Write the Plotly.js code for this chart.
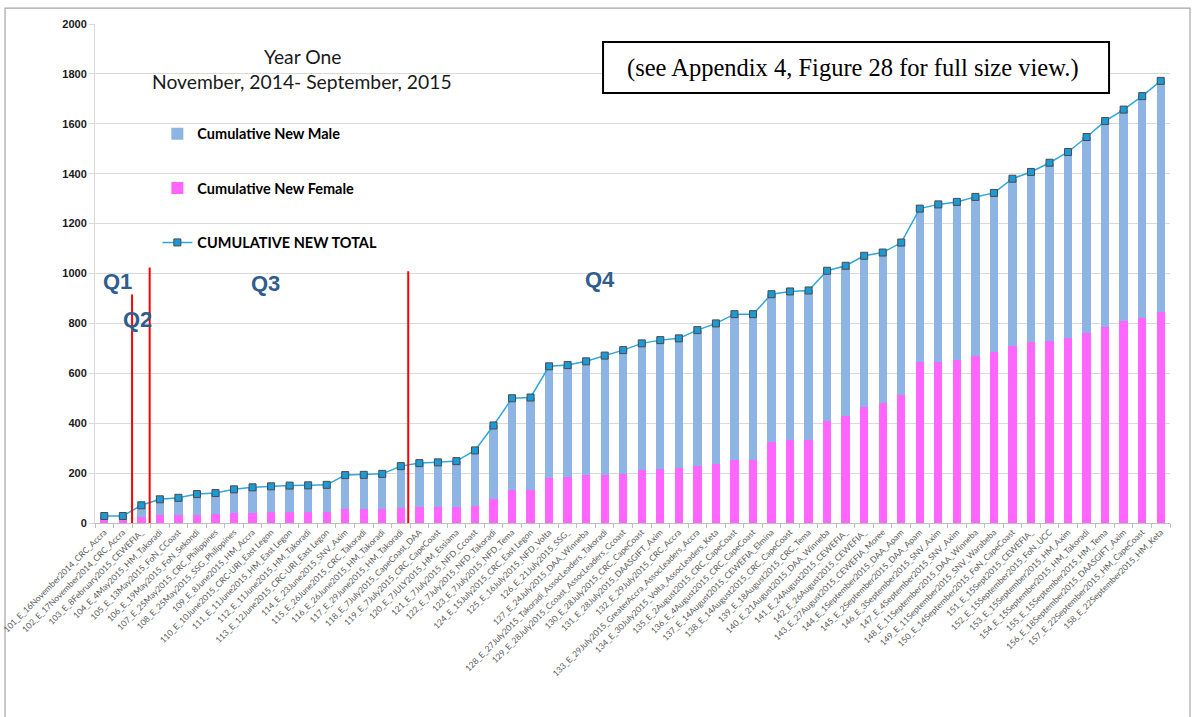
<!DOCTYPE html>
<html>
<head>
<meta charset="utf-8">
<script src="https://cdn.plot.ly/plotly-3.0.1.min.js"></script>
<style>
html,body{margin:0;padding:0;background:#fff;}
#chart{width:1203px;height:717px;}
</style>
</head>
<body>
<div id="chart"></div>
<script>
var categories = [
"101_E_16November2014_CRC_Accra",
"102_E_17November2014_CRC_Accra",
"103_E_8February2015_CEWEFIA_",
"104_E_4May2015_HM_Takoradi",
"105_E_13May2015_FoN_CCoast",
"106_E_19May2015_FoN_Sekondi",
"107_E_25May2015_CRC_Philippines",
"108_E_25May2015_SSG_Philippines",
"109_E_8June2015_HM_Accra",
"110_E_10June2015_CRC-URI_East Legon",
"111_E_11June2015_HM_East Legon",
"112_E_11June2015_HM_Takoradi",
"113_E_12June2015_CRC-URI_East Legon",
"114_E_23June2015_SNV_Axim",
"115_E_26June2015_CRC_Takoradi",
"116_E_26June2015_HM_Takoradi",
"117_E_29June2015_HM_Takoradi",
"118_E_7July2015_CapeCoast_DAA",
"119_E_7July2015_CRC_CapeCoast",
"120_E_7JULY2015_HM_Essiama",
"121_E_7July2015_NFD_Ccoast",
"122_E_7July2015_NFD_Takoradi",
"123_E_7July2015_NFD_Tema",
"124_E_15July2015_CRC_East Legon",
"125_E_16July2015_NFD_Volta",
"126_E_21July2015_SSG_",
"127_E_24July2015_DAA_Winneba",
"128_E_27July2015_Takoradi_AssocLeaders_Takoradi",
"129_E_28July2015_Ccoast_AssocLeaders_Ccoast",
"130_E_28July2015_CRC_CapeCoast",
"131_E_28July2015_DAASGIFT_Axim",
"132_E_29July2015_CRC_Accra",
"133_E_29July2015_GreaterAccra_AssocLeaders_Accra",
"134_E_30July2015_Volta_AssocLeaders_Keta",
"135_E_2August2015_CRC_CapeCoast",
"136_E_4August2015_CRC_CapeCoast",
"137_E_14August2015_CEWEFIA_Elmina",
"138_E_14August2015_CRC_CapeCoast",
"139_E_18August2015_CRC_Tema",
"140_E_21August2015_DAA_Winneba",
"141_E_24August2015_CEWEFIA_",
"142_E_26August2015_CEWEFIA_",
"143_E_27August2015_CEWEFIA_Moree",
"144_E_1September2015_DAA_Apam",
"145_E_2September2015_DAA_Apam",
"146_E_3September2015_SNV_Axim",
"147_E_4September2015_SNV_Axim",
"148_E_11September2015_DAA_Winneba",
"149_E_11September2015_SNV_Warabeba",
"150_E_14September2015_FoN_CapeCoast",
"151_E_15Sept2015_CEWEFIA_",
"152_E_15September2015_FoN_UCC",
"153_E_15September2015_HM_Axim",
"154_E_15September2015_HM_Takoradi",
"155_E_15September2015_HM_Tema",
"156_E_18September2015_DAASGIFT_Axim",
"157_E_22September2015_HM_CapeCoast",
"158_E_22September2015_HM_Keta"
];

var femaleValues = [13,13,24,31,33,34,36,41,41,44,45,45,45,57,57,57,60,64,64,
  64,67,95,131,131,181,184,191,193,197,211,217,220,228,237,253,253,324,331,331,
  407,428,464,480,514,644,647,653,668,687,708,724,731,741,761,784,811,821,847];

var maleValues = [15,15,47,64,68,82,84,94,102,103,105,106,108,135,136,140,168,176,179,
  184,224,296,369,372,447,449,457,478,496,509,516,520,545,563,584,584,593,597,601,
  604,603,607,604,610,616,630,634,639,636,672,683,713,746,786,827,846,890,925];

var totalValues = [28,28,71,95,101,116,120,135,143,147,150,151,153,192,193,197,228,240,243,
  248,291,391,500,503,628,633,648,671,693,720,733,740,773,800,837,837,917,928,932,
  1011,1031,1071,1084,1124,1260,1277,1287,1307,1323,1380,1407,1444,1487,1547,1611,1657,1711,1772];

var yTicks = [0,200,400,600,800,1000,1200,1400,1600,1800,2000];
var quarterLabels = ["Q1","Q2","Q3","Q4"];
var titleLines = ["Year One","November, 2014- September, 2015"];
var noteText = "(see Appendix 4, Figure 28 for full size view.)";

var traces = [
  {
    type:"bar", name:"Cumulative New Female", x:categories, y:femaleValues,
    marker:{color:"#FF66FF"}, legendgroup:"f", legendrank:2
  },
  {
    type:"bar", name:"Cumulative New Male", x:categories, y:maleValues,
    marker:{color:"#8DB4E3"}, legendgroup:"m", legendrank:1
  },
  {
    type:"scatter", mode:"lines+markers", name:"CUMULATIVE NEW TOTAL", x:categories, y:totalValues,
    line:{color:"#2EA8DC", width:1.5},
    marker:{symbol:"square", size:7, color:"#1B9AD6", line:{color:"#4A4A4A", width:1}},
    legendgroup:"t", legendrank:3
  }
];

var qColor = "#2F5D8E";
var qFont = {family:"'Liberation Sans', Arial, sans-serif", size:22, color:qColor, weight:"bold"};
function ann(x, y, text, font){
  return {xref:"paper", yref:"paper", x:x, y:y, xanchor:"center", yanchor:"middle",
          text:text, showarrow:false, font:font};
}
var layout = {
  width:1203, height:717,
  margin:{l:95, r:33, t:24, b:194, pad:0},
  paper_bgcolor:"#ffffff", plot_bgcolor:"#ffffff",
  barmode:"stack", bargap:0.55,
  font:{family:"Lato, 'Liberation Sans', sans-serif", color:"#000"},
  showlegend:true,
  legend:{
    x:0.058, y:0.812, xanchor:"left", yanchor:"top",
    bgcolor:"rgba(0,0,0,0)", traceorder:"grouped", tracegroupgap:32.5,
    font:{family:"Lato, sans-serif", size:14.5, color:"#000", weight:"bold"}
  },
  xaxis:{
    type:"category", range:[-0.5, 57.5], autorange:false,
    tickangle:-45, tickson:"boundaries",
    ticks:"outside", ticklen:4, tickcolor:"#BFBFBF",
    showline:true, linecolor:"#BFBFBF", linewidth:1,
    showgrid:false, automargin:false,
    tickfont:{family:"Lato, sans-serif", size:8.5, color:"#595959"}
  },
  yaxis:{
    range:[0,2000], autorange:false, tickvals:yTicks, ticktext:yTicks.map(String),
    showgrid:true, gridcolor:"#D9D9D9", gridwidth:1,
    ticks:"outside", ticklen:5, tickcolor:"#D9D9D9",
    showline:true, linecolor:"#D9D9D9", zeroline:false, automargin:false,
    tickfont:{family:"'Liberation Sans', Arial, sans-serif", size:11, color:"#1A1A1A", weight:"bold"}
  },
  shapes:[
    {type:"rect", xref:"paper", yref:"paper", x0:-0.0837, x1:1.0186, y0:-0.42, y1:1.032,
     line:{color:"#A6A6A6", width:1.2}, fillcolor:"rgba(0,0,0,0)", layer:"below"},
    {type:"line", xref:"x", yref:"y", x0:1.5, x1:1.5, y0:0, y1:916, line:{color:"#FF0000", width:2}},
    {type:"line", xref:"x", yref:"y", x0:2.45, x1:2.45, y0:0, y1:1024, line:{color:"#FF0000", width:2}},
    {type:"line", xref:"x", yref:"y", x0:16.4, x1:16.4, y0:0, y1:1009, line:{color:"#FF0000", width:2}},
    {type:"rect", xref:"paper", yref:"paper", x0:0.4726, x1:0.9433, y0:0.8617, y1:0.964,
     line:{color:"#000000", width:2}, fillcolor:"#FFFFFF"}
  ],
  annotations:[
    ann(0.1926, 0.934, titleLines[0], {family:"Lato, sans-serif", size:19.3, color:"#1A1A1A"}),
    ann(0.1926, 0.884, titleLines[1], {family:"Lato, sans-serif", size:19.3, color:"#1A1A1A"}),
    ann(0.7051, 0.9118, noteText, {family:"'Liberation Serif', 'Times New Roman', serif", size:24.5, color:"#000"}),
    ann(0.0205, 0.4847, quarterLabels[0], qFont),
    ann(0.0391, 0.4085, quarterLabels[1], qFont),
    ann(0.1586, 0.4807, quarterLabels[2], qFont),
    ann(0.4698, 0.4887, quarterLabels[3], qFont)
  ]
};

Plotly.newPlot("chart", traces, layout, {displayModeBar:false, staticPlot:true});
</script>
</body>
</html>
